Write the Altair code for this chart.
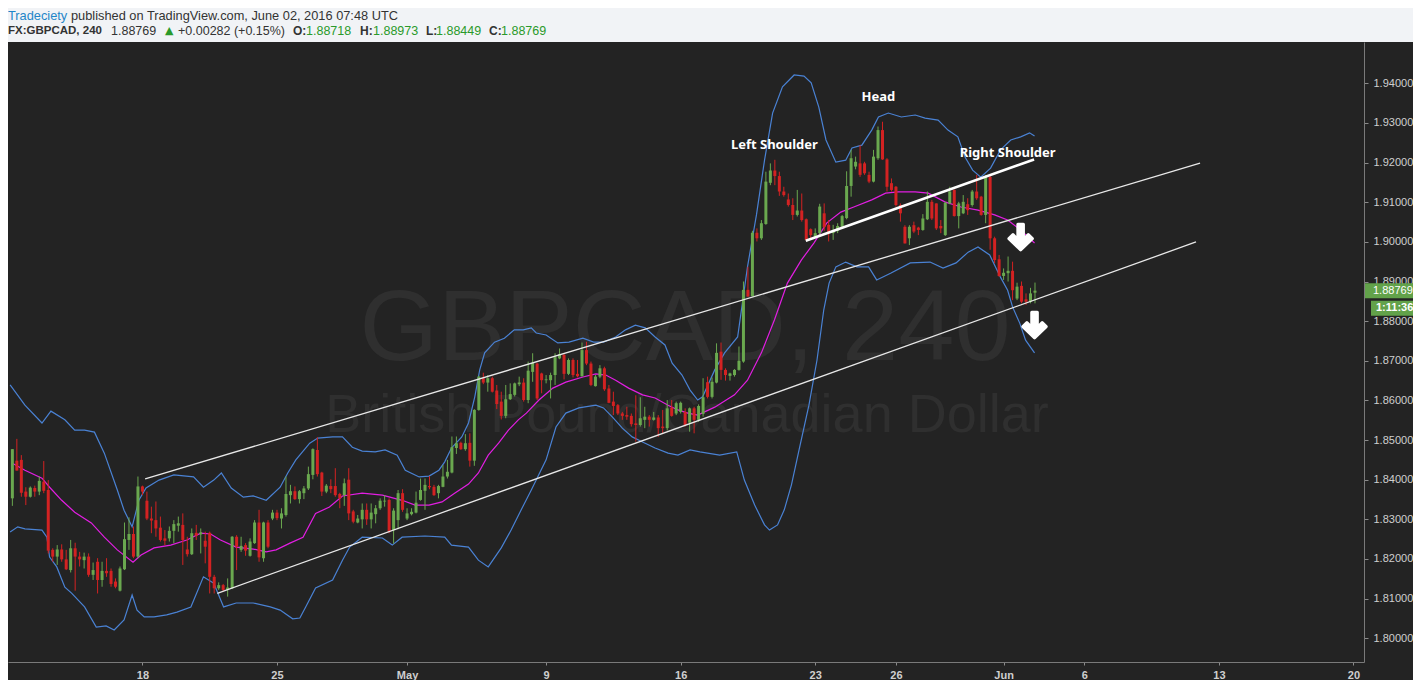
import altair as alt
import pandas as pd

# ---------------- data ----------------
opens = [1.8353,1.8448,1.8450,1.8370,1.8357,1.8379,1.8370,1.8395,1.8374,1.8223,
         1.8206,1.8224,1.8199,1.8172,1.8227,1.8206,1.8197,1.8206,1.8160,1.8193,
         1.8147,1.8170,1.8170,1.8143,1.8120,1.8174,1.8248,1.8263,1.8206,1.8383,
         1.8347,1.8302,1.8298,1.8279,1.8252,1.8252,1.8271,1.8284,1.8286,1.8224,
         1.8212,1.8266,1.8262,1.8246,1.8266,1.8155,1.8126,1.8134,1.8122,1.8126,
         1.8256,1.8223,1.8235,1.8208,1.8240,1.8292,1.8202,1.8292,1.8302,1.8317,
         1.8302,1.8311,1.8361,1.8371,1.8351,1.8366,1.8378,1.8412,1.8475,1.8418,
         1.8370,1.8384,1.8384,1.8364,1.8361,1.8400,1.8320,1.8292,1.8300,1.8324,
         1.8300,1.8313,1.8328,1.8345,1.8349,1.8273,1.8298,1.8366,1.8302,1.8313,
         1.8317,1.8349,1.8372,1.8384,1.8382,1.8366,1.8382,1.8408,1.8418,1.8480,
         1.8493,1.8477,1.8493,1.8448,1.8576,1.8656,1.8645,1.8656,1.8625,1.8597,
         1.8561,1.8603,1.8614,1.8641,1.8645,1.8601,1.8672,1.8693,1.8668,1.8651,
         1.8651,1.8664,1.8706,1.8715,1.8667,1.8702,1.8667,1.8661,1.8727,1.8693,
         1.8636,1.8660,1.8681,1.8630,1.8597,1.8588,1.8567,1.8563,1.8561,1.8542,
         1.8538,1.8551,1.8559,1.8551,1.8557,1.8534,1.8530,1.8582,1.8567,1.8571,
         1.8571,1.8544,1.8580,1.8551,1.8566,1.8646,1.8609,1.8645,1.8723,1.8677,
         1.8662,1.8664,1.8677,1.8698,1.8879,1.8863,1.9023,1.9009,1.9045,1.9149,
         1.9180,1.9166,1.9127,1.9107,1.9093,1.9068,1.9079,1.9057,1.9032,1.9013,
         1.9022,1.9072,1.9043,1.9022,1.9028,1.9038,1.9060,1.9141,1.9190,1.9198,
         1.9198,1.9169,1.9152,1.9211,1.9282,1.9208,1.9148,1.9139,1.9093,1.9038,
         1.9009,1.9042,1.9036,1.9030,1.9057,1.9101,1.9097,1.9040,1.9017,1.9097,
         1.9131,1.9065,1.9072,1.9095,1.9093,1.9127,1.9114,1.9068,1.9164,1.9009,
         1.8956,1.8914,1.8921,1.8927,1.8857,1.8889,1.8855,1.8849,1.88718]
highs = [1.8477,1.8503,1.8462,1.8381,1.8383,1.8385,1.8408,1.8447,1.8399,1.8227,
         1.8235,1.8237,1.8223,1.8248,1.8241,1.8218,1.8216,1.8214,1.8191,1.8202,
         1.8193,1.8202,1.8176,1.8151,1.8181,1.8292,1.8305,1.8282,1.8408,1.8385,
         1.8370,1.8332,1.8345,1.8307,1.8273,1.8282,1.8298,1.8307,1.8315,1.8256,
         1.8277,1.8286,1.8277,1.8269,1.8269,1.8160,1.8141,1.8137,1.8151,1.8258,
         1.8260,1.8256,1.8240,1.8252,1.8298,1.8324,1.8294,1.8298,1.8324,1.8324,
         1.8328,1.8408,1.8387,1.8383,1.8374,1.8384,1.8433,1.8479,1.8507,1.8420,
         1.8389,1.8401,1.8429,1.8367,1.8403,1.8429,1.8324,1.8311,1.8340,1.8340,
         1.8340,1.8336,1.8353,1.8361,1.8353,1.8328,1.8374,1.8376,1.8328,1.8328,
         1.8370,1.8403,1.8403,1.8409,1.8387,1.8387,1.8437,1.8450,1.8509,1.8509,
         1.8496,1.8515,1.8517,1.8578,1.8662,1.8670,1.8664,1.8660,1.8639,1.8622,
         1.8639,1.8643,1.8645,1.8660,1.8656,1.8698,1.8719,1.8695,1.8670,1.8664,
         1.8670,1.8719,1.8731,1.8717,1.8706,1.8706,1.8702,1.8746,1.8748,1.8698,
         1.8664,1.8689,1.8685,1.8639,1.8622,1.8591,1.8571,1.8584,1.8567,1.8613,
         1.8608,1.8584,1.8563,1.8571,1.8563,1.8576,1.8601,1.8601,1.8597,1.8597,
         1.8580,1.8582,1.8584,1.8590,1.8656,1.8660,1.8658,1.8744,1.8746,1.8681,
         1.8670,1.8679,1.8736,1.8900,1.8937,1.9028,1.9034,1.9055,1.9177,1.9198,
         1.9207,1.9177,1.9139,1.9122,1.9110,1.9131,1.9122,1.9059,1.9034,1.9034,
         1.9096,1.9097,1.9055,1.9043,1.9047,1.9068,1.9178,1.9232,1.9215,1.9244,
         1.9202,1.9177,1.9232,1.9291,1.9303,1.9211,1.9160,1.9141,1.9097,1.9042,
         1.9042,1.9051,1.9038,1.9070,1.9127,1.9106,1.9097,1.9055,1.9101,1.9139,
         1.9132,1.9101,1.9118,1.9110,1.9131,1.9169,1.9116,1.9169,1.9169,1.9013,
         1.8967,1.8933,1.8963,1.8950,1.8897,1.8900,1.8870,1.8884,1.88973]
lows = [1.8334,1.8423,1.8357,1.8336,1.8355,1.8357,1.8361,1.8366,1.8214,1.8193,
        1.8185,1.8193,1.8172,1.8166,1.8120,1.8181,1.8176,1.8155,1.8147,1.8113,
        1.8130,1.8155,1.8130,1.8126,1.8118,1.8172,1.8223,1.8202,1.8202,1.8361,
        1.8298,1.8265,1.8256,1.8244,1.8235,1.8244,1.8240,1.8269,1.8185,1.8206,
        1.8210,1.8248,1.8214,1.8189,1.8113,1.8113,1.8122,1.8118,1.8105,1.8124,
        1.8172,1.8218,1.8208,1.8206,1.8238,1.8193,1.8193,1.8227,1.8298,1.8298,
        1.8277,1.8307,1.8340,1.8349,1.8340,1.8351,1.8374,1.8401,1.8408,1.8359,
        1.8366,1.8366,1.8357,1.8328,1.8334,1.8298,1.8290,1.8290,1.8277,1.8286,
        1.8277,1.8290,1.8324,1.8332,1.8265,1.8239,1.8275,1.8319,1.8298,1.8310,
        1.8315,1.8347,1.8324,1.8376,1.8359,1.8353,1.8381,1.8403,1.8416,1.8465,
        1.8475,1.8473,1.8433,1.8435,1.8574,1.8641,1.8622,1.8620,1.8578,1.8552,
        1.8555,1.8601,1.8610,1.8636,1.8597,1.8593,1.8647,1.8601,1.8618,1.8643,
        1.8605,1.8639,1.8704,1.8653,1.8664,1.8658,1.8658,1.8660,1.8689,1.8636,
        1.8635,1.8656,1.8624,1.8593,1.8563,1.8563,1.8551,1.8551,1.8534,1.8496,
        1.8534,1.8530,1.8534,1.8549,1.8508,1.8517,1.8524,1.8559,1.8563,1.8567,
        1.8534,1.8521,1.8517,1.8546,1.8559,1.8605,1.8605,1.8643,1.8652,1.8650,
        1.8650,1.8660,1.8675,1.8695,1.8862,1.8862,1.9001,1.9005,1.9043,1.9143,
        1.9143,1.9116,1.9114,1.9089,1.9055,1.9064,1.9051,1.9003,1.9009,1.9009,
        1.9017,1.9028,1.9001,1.9005,1.9022,1.9034,1.9057,1.9114,1.9183,1.9164,
        1.9169,1.9148,1.9150,1.9207,1.9207,1.9127,1.9127,1.9089,1.9051,1.8996,
        1.8992,1.9022,1.9017,1.9028,1.9055,1.9055,1.9030,1.9022,1.9015,1.9095,
        1.9064,1.9034,1.9070,1.9068,1.9089,1.9106,1.9066,1.9047,1.8980,1.8946,
        1.8912,1.8904,1.8900,1.8853,1.8853,1.8845,1.8841,1.8845,1.88449]
closes = [1.8477,1.8423,1.8367,1.8357,1.8380,1.8370,1.8397,1.8372,1.8221,1.8206,
          1.8224,1.8199,1.8174,1.8227,1.8206,1.8199,1.8206,1.8160,1.8172,1.8147,
          1.8170,1.8164,1.8137,1.8130,1.8176,1.8250,1.8263,1.8206,1.8383,1.8370,
          1.8302,1.8297,1.8277,1.8248,1.8246,1.8271,1.8288,1.8290,1.8248,1.8212,
          1.8265,1.8259,1.8267,1.8231,1.8155,1.8126,1.8134,1.8122,1.8128,1.8256,
          1.8231,1.8233,1.8221,1.8244,1.8292,1.8204,1.8292,1.8231,1.8317,1.8303,
          1.8315,1.8364,1.8371,1.8351,1.8371,1.8378,1.8414,1.8477,1.8414,1.8370,
          1.8385,1.8376,1.8361,1.8353,1.8391,1.8315,1.8294,1.8302,1.8324,1.8300,
          1.8317,1.8328,1.8347,1.8347,1.8269,1.8322,1.8366,1.8324,1.8315,1.8319,
          1.8342,1.8374,1.8387,1.8381,1.8361,1.8384,1.8408,1.8420,1.8482,1.8492,
          1.8477,1.8492,1.8448,1.8576,1.8660,1.8645,1.8656,1.8622,1.8591,1.8561,
          1.8603,1.8616,1.8643,1.8645,1.8601,1.8675,1.8695,1.8605,1.8651,1.8653,
          1.8664,1.8709,1.8717,1.8667,1.8702,1.8664,1.8661,1.8727,1.8693,1.8639,
          1.8660,1.8681,1.8628,1.8594,1.8586,1.8567,1.8561,1.8559,1.8540,1.8538,
          1.8555,1.8559,1.8551,1.8557,1.8530,1.8530,1.8580,1.8561,1.8593,1.8594,
          1.8538,1.8580,1.8551,1.8586,1.8608,1.8609,1.8647,1.8720,1.8677,1.8664,
          1.8668,1.8677,1.8700,1.8879,1.8862,1.9023,1.9009,1.9047,1.9152,1.9180,
          1.9166,1.9127,1.9118,1.9093,1.9068,1.9079,1.9055,1.9005,1.9017,1.9022,
          1.9089,1.9037,1.9022,1.9030,1.9040,1.9065,1.9141,1.9211,1.9202,1.9169,
          1.9173,1.9152,1.9215,1.9282,1.9208,1.9139,1.9131,1.9093,1.9072,1.8996,
          1.9038,1.9026,1.9030,1.9059,1.9101,1.9059,1.9034,1.9034,1.9099,1.9127,
          1.9065,1.9097,1.9101,1.9080,1.9127,1.9110,1.9068,1.9164,1.9009,1.8954,
          1.8914,1.8922,1.8927,1.8878,1.8887,1.8849,1.8849,1.8870,1.88769]

# Bollinger bands (upper / lower) and the 20-period average, read at bar positions
ub_bar = [-0.5,2.8,6.6,8.6,11.7,13.9,16.1,18.3,20.5,23.4,24.9,26.7,28.2,29.8,32.7,36.0,40.4,42.6,44.9,46.6,
          48.8,51.5,53.7,56.6,59.7,61.4,63.2,66.3,68.1,71.4,73.6,75.8,78.0,80.9,83.1,85.8,87.6,90.7,92.9,95.1,
          96.4,97.9,100.2,101.7,103.1,104.2,105.3,107.5,109.7,111.9,113.9,115.7,116.8,119.0,121.6,124.1,127.2,129.6,131.8,134.5,
          136.7,138.9,141.1,143.3,145.5,147.1,149.3,151.1,152.8,153.9,156.6,158.8,161.7,163.9,165.9,167.7,169.5,171.7,174.3,176.5,
          178.1,179.8,181.4,183.6,185.8,187.2,189.4,191.6,193.1,195.3,198.2,201.3,203.5,206.4,208.6,210.8,212.4,214.1,215.9,218.1,
          220.3,222.6,224.8,226.8,227.9]
ub_val = [1.8639,1.8588,1.8543,1.8573,1.8551,1.8525,1.8525,1.8520,1.8467,1.8374,1.8323,1.8281,1.8348,1.8379,1.8399,1.8412,1.8407,1.8381,1.8399,1.8417,
          1.8379,1.8356,1.8359,1.8348,1.8381,1.8417,1.8450,1.8492,1.8505,1.8508,1.8508,1.8482,1.8472,1.8470,1.8475,1.8462,1.8424,1.8407,1.8409,1.8424,
          1.8445,1.8480,1.8508,1.8543,1.8609,1.8677,1.8720,1.8747,1.8757,1.8778,1.8778,1.8783,1.8770,1.8765,1.8745,1.8747,1.8757,1.8747,1.8747,1.8760,
          1.8778,1.8790,1.8783,1.8760,1.8740,1.8694,1.8664,1.8626,1.8601,1.8609,1.8677,1.8720,1.8760,1.8937,1.9068,1.9206,1.9325,1.9391,1.9421,1.9418,
          1.9401,1.9340,1.9257,1.9201,1.9206,1.9237,1.9244,1.9282,1.9315,1.9325,1.9315,1.9320,1.9312,1.9307,1.9282,1.9265,1.9214,1.9181,1.9163,1.9186,
          1.9232,1.9257,1.9265,1.9275,1.9267]
lb_bar = [-0.5,1.2,2.8,6.6,7.7,8.3,9.9,11.7,13.2,16.1,18.7,20.9,22.7,24.9,26.7,27.8,29.4,31.6,34.4,36.7,
          39.8,42.6,44.9,47.1,49.9,53.7,57.5,59.7,62.5,64.1,65.4,67.6,71.4,73.6,75.2,78.0,82.5,84.7,86.9,92.0,
          96.4,97.9,101.7,103.9,106.1,109.0,111.2,113.4,115.7,119.0,121.2,123.4,126.3,130.1,131.8,133.8,136.0,138.2,140.5,143.3,
          146.2,148.4,151.1,153.3,157.7,161.5,163.2,165.5,167.7,168.8,170.6,172.1,173.7,175.4,177.6,179.4,180.9,182.1,183.6,185.8,
          188.3,190.9,192.7,195.8,200.2,204.6,207.5,210.4,213.1,215.3,217.9,220.3,221.9,223.0,224.6,225.9,227.9]
lb_val = [1.8268,1.8281,1.8276,1.8273,1.8255,1.8205,1.8180,1.8129,1.8114,1.8079,1.8028,1.8031,1.8021,1.8046,1.8109,1.8071,1.8054,1.8054,1.8059,1.8066,
          1.8079,1.8155,1.8139,1.8079,1.8089,1.8089,1.8079,1.8071,1.8049,1.8051,1.8079,1.8127,1.8147,1.8197,1.8230,1.8255,1.8253,1.8235,1.8255,1.8258,
          1.8255,1.8235,1.8230,1.8197,1.8180,1.8228,1.8273,1.8323,1.8374,1.8450,1.8533,1.8568,1.8581,1.8588,1.8581,1.8558,1.8530,1.8508,1.8495,1.8480,
          1.8467,1.8462,1.8475,1.8470,1.8462,1.8470,1.8399,1.8336,1.8286,1.8273,1.8286,1.8324,1.8387,1.8475,1.8588,1.8702,1.8828,1.8896,1.8937,1.8949,
          1.8937,1.8937,1.8904,1.8921,1.8947,1.8949,1.8934,1.8947,1.8974,1.8987,1.8967,1.8911,1.8878,1.8836,1.8795,1.8752,1.8720]
ma_bar = [-0.1,2.8,6.6,8.3,11.0,13.9,17.6,20.5,23.4,26.9,28.7,31.6,35.3,38.9,42.0,44.2,46.4,49.9,53.7,56.6,
          58.8,61.9,64.8,67.6,70.7,73.6,78.0,82.5,86.9,89.8,92.9,95.8,98.6,101.7,103.9,106.1,108.4,110.6,112.8,114.6,
          117.4,120.5,123.4,127.2,130.1,132.3,134.5,137.4,140.5,143.3,146.2,148.4,150.6,152.8,156.6,161.0,163.9,167.0,169.9,172.8,
          175.9,178.7,181.6,184.7,187.6,191.6,194.7,197.5,201.3,204.2,207.9,211.5,215.3,219.0,221.9,224.8,227.9]
ma_val = [1.8442,1.8424,1.8404,1.8381,1.8348,1.8318,1.8291,1.8255,1.8223,1.8192,1.8210,1.8228,1.8235,1.8248,1.8265,1.8263,1.8248,1.8230,1.8225,1.8218,
          1.8223,1.8240,1.8255,1.8315,1.8331,1.8359,1.8366,1.8361,1.8348,1.8336,1.8336,1.8344,1.8366,1.8389,1.8417,1.8462,1.8492,1.8525,1.8551,1.8568,
          1.8601,1.8631,1.8646,1.8659,1.8667,1.8664,1.8651,1.8631,1.8614,1.8606,1.8588,1.8576,1.8568,1.8563,1.8583,1.8614,1.8651,1.8720,1.8803,1.8896,
          1.8954,1.8997,1.9048,1.9075,1.9088,1.9106,1.9123,1.9126,1.9126,1.9123,1.9101,1.9088,1.9080,1.9068,1.9055,1.9030,1.8997]

# drawn trend lines (start bar, start price, end bar, end price)
chan_b1 = [29.6, 45.7]
chan_p1 = [1.84018, 1.81134]
chan_b2 = [264.8, 263.9]
chan_p2 = [1.91989, 1.89997]
neck_b1, neck_p1, neck_b2, neck_p2 = [176.9], [1.9003], [227.8], [1.9208]

# annotations
note_text = ["Left Shoulder", "Head", "Right Shoulder"]
note_bar = [169.9, 193.1, 221.9]
note_price = [1.9244, 1.9365, 1.9224]
arrow_bar = [224.8, 227.9]
arrow_price = [1.9012, 1.8790]

tick_bars = [29, 59, 88, 119, 149, 179, 197, 221, 239, 269, 299]
tick_labels = ["18", "25", "May", "9", "16", "23", "26", "Jun", "6", "13", "20"]
price_ticks = [1.80, 1.81, 1.82, 1.83, 1.84, 1.85, 1.86, 1.87, 1.88, 1.89, 1.90, 1.91, 1.92, 1.93, 1.94]
last_price = 1.88769
countdown = "1:11:36"

# ---------------- styles ----------------
BG = "#232323"
LIGHT = "#f1f3f6"
GREEN = "#6aa84f"
RED = "#d32222"
BLUE = "#4a82d4"
MAGENTA = "#e21ee2"
WM = "#2f2f2f"

candles = pd.DataFrame({"bar": list(range(len(opens))), "o": opens, "h": highs, "l": lows, "c": closes})

xscale = alt.Scale(domain=[0.1416, 300.24], nice=False, zero=False)
yscale = alt.Scale(domain=[1.79401, 1.95042], nice=False, zero=False)

label_expr = " : ".join(f"datum.value == {b} ? '{t}'" for b, t in zip(tick_bars, tick_labels)) + " : ''"
xaxis = alt.Axis(values=tick_bars, labelExpr=label_expr, title=None, grid=False,
                 domainColor="#7a7a7a", tickColor="#8a8a8a", tickSize=3,
                 labelColor="#cfcfcf", labelFont="Liberation Sans", labelFontSize=11,
                 labelFontWeight="bold", labelPadding=4, labelBaseline="top")
yaxis = alt.Axis(values=price_ticks, format=".5f", title=None, grid=False, orient="right",
                 domainColor="#7a7a7a", tickColor="#8a8a8a", tickSize=4,
                 labelColor="#cfcfcf", labelFont="Liberation Sans", labelFontSize=11,
                 labelPadding=5)


def X(field):
    return alt.X(field, type="quantitative", scale=xscale, axis=xaxis)


def Y(field):
    return alt.Y(field, type="quantitative", scale=yscale, axis=yaxis)


def pix_text(text, x, y, color, size, weight="normal", font="Liberation Sans", align="left", baseline="middle"):
    return alt.Chart(alt.Data(values=[{"t": text}])).mark_text(
        align=align, baseline=baseline, color=color, fontSize=size, fontWeight=weight, font=font
    ).encode(text="t:N", x=alt.value(x), y=alt.value(y))


def pix_rect(x, x2, y, y2, color):
    return alt.Chart(alt.Data(values=[{"a": 1}])).mark_rect(color=color).encode(
        x=alt.value(x), x2=alt.value(x2), y=alt.value(y), y2=alt.value(y2))


# light header strip above the dark panel
header_bg = pix_rect(0, 1405, -34, 0, LIGHT)

# watermark
wm1 = pix_text("GBPCAD, 240", 677, 318, WM, 101, align="center", baseline="alphabetic")
wm2 = pix_text("British Pound/Canadian Dollar", 679, 390, WM, 54, align="center", baseline="alphabetic")

base = alt.Chart(candles)
color_cond = alt.condition("datum.c >= datum.o", alt.value(GREEN), alt.value(RED))
wicks = base.mark_rule(strokeWidth=1, clip=True).encode(x=X("bar"), y=Y("l"), y2="h", color=color_cond)
bodies = base.mark_bar(size=3, clip=True).encode(x=X("bar"), y=Y("o"), y2="c", color=color_cond)


def band(bars, vals, color):
    df = pd.DataFrame({"bar": bars, "p": vals})
    return alt.Chart(df).mark_line(color=color, strokeWidth=1.2, clip=True).encode(x=X("bar"), y=Y("p"))


ub = band(ub_bar, ub_val, BLUE)
lb = band(lb_bar, lb_val, BLUE)
ma = band(ma_bar, ma_val, MAGENTA)

chan_df = pd.DataFrame({"b1": chan_b1, "p1": chan_p1, "b2": chan_b2, "p2": chan_p2})
chan = alt.Chart(chan_df).mark_rule(color="#e8e8e8", strokeWidth=1.3).encode(
    x=X("b1"), y=Y("p1"), x2="b2", y2="p2")
neck_df = pd.DataFrame({"b1": neck_b1, "p1": neck_p1, "b2": neck_b2, "p2": neck_p2})
neck = alt.Chart(neck_df).mark_rule(color="#ffffff", strokeWidth=2.6).encode(
    x=X("b1"), y=Y("p1"), x2="b2", y2="p2")

notes_df = pd.DataFrame({"t": note_text, "bar": note_bar, "p": note_price})
notes = alt.Chart(notes_df).mark_text(color="#ffffff", font="Noto Sans", fontWeight="bold", fontSize=13,
                                      align="center", baseline="middle").encode(x=X("bar"), y=Y("p"), text="t:N")

ARROW = "M-0.22,-1 L0.22,-1 L0.22,0.2 L0.6,-0.2 L0.92,0.12 L0,1 L-0.92,0.12 L-0.6,-0.2 L-0.22,0.2 Z"
arrows_df = pd.DataFrame({"bar": arrow_bar, "p": arrow_price})
arrows = alt.Chart(arrows_df).mark_point(shape=ARROW, filled=True, color="#ffffff", stroke="#ffffff",
                                         strokeWidth=3, strokeJoin="round", size=650, opacity=1).encode(
    x=X("bar"), y=Y("p"))

# last price tag and countdown on the price scale
lp_df = pd.DataFrame({"p": [last_price], "t": [f"{last_price:.5f}"], "cd": [countdown]})
lp_box = alt.Chart(lp_df).mark_rect(color="#62a24a", yOffset=-7.5, y2Offset=7.5).encode(
    x=alt.value(1357), x2=alt.value(1405), y=Y("p"), y2="p")
lp_txt = alt.Chart(lp_df).mark_text(color="#ffffff", font="Liberation Sans", fontSize=11, align="left",
                                    baseline="middle").encode(x=alt.value(1365), y=Y("p"), text="t:N")
cd_box = alt.Chart(lp_df).mark_rect(color="#62a24a", yOffset=10, y2Offset=25).encode(
    x=alt.value(1363), x2=alt.value(1405), y=Y("p"), y2="p")
cd_txt = alt.Chart(lp_df).mark_text(color="#ffffff", font="Liberation Sans", fontSize=11, fontWeight="bold",
                                    align="left", baseline="middle", dy=17.5).encode(
    x=alt.value(1368), y=Y("p"), text="cd:N")

# header lines
HG = "#2a9a2a"
HD = "#333333"
L1, L2 = -26, -11
header = [
    pix_text("Tradeciety", 0, L1, "#1f86c8", 12.8),
    pix_text("published on TradingView.com, June 02, 2016 07:48 UTC", 63, L1, HD, 12.8),
    pix_text("FX:GBPCAD, 240", 0, L2, HD, 11.5, weight="bold"),
    pix_text("1.88769", 103, L2, HD, 12.5),
    pix_text("\u25b2", 157, L2, HG, 11, font="DejaVu Sans"),
    pix_text("+0.00282 (+0.15%)", 170, L2, HD, 12.5),
    pix_text("O:", 285, L2, HD, 12, weight="bold"),
    pix_text("1.88718", 298, L2, HG, 12.5),
    pix_text("H:", 352, L2, HD, 12, weight="bold"),
    pix_text("1.88973", 365, L2, HG, 12.5),
    pix_text("L:", 418, L2, HD, 12, weight="bold"),
    pix_text("1.88449", 428, L2, HG, 12.5),
    pix_text("C:", 481, L2, HD, 12, weight="bold"),
    pix_text("1.88769", 493, L2, HG, 12.5),
]

chart = alt.layer(
    header_bg, wm1, wm2, ub, lb, ma, wicks, bodies, chan, neck,
    notes, arrows, lp_box, lp_txt, cd_box, cd_txt, *header
).properties(
    width=1356, height=620,
    autosize=alt.AutoSizeParams(type="none"),
    padding={"left": 0, "top": 34, "right": 49, "bottom": 18},
    background=BG,
).configure_view(stroke=None)

chart.save("out.html", embed_options={"renderer": "svg", "actions": False})
